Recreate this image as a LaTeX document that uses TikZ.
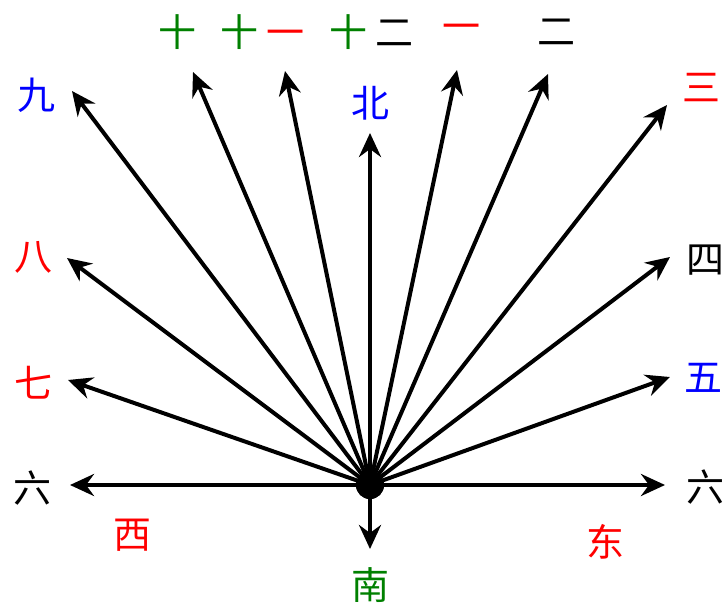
\documentclass[tikz,border=0pt]{standalone}
\usepackage{fontspec}
\newfontfamily\cjk{Noto Sans CJK SC}
\usetikzlibrary{arrows.meta, positioning}

\begin{document}
\begin{tikzpicture}[
        x=1pt, y=-1pt,
        ray/.style={line width=4pt, -{Stealth[length=24pt, width=22pt, inset=8pt]}},
        lbl/.style={font=\cjk\fontsize{38}{40}\selectfont, inner sep=0pt},
        dot/.style={circle, fill=black, minimum size=28pt, inner sep=0pt}
    ]
        \useasboundingbox (0,0) rectangle (728,610);
        \node[dot] (o) at (370,485) {};

        % tips of the rays
        \coordinate (e) at (665,485);
        \coordinate (w) at (70,485);
        \coordinate (s) at (370,549);
        \coordinate (n) at (370,133);
        \coordinate (d5) at (670,377);
        \coordinate (d4) at (670,257);
        \coordinate (d3) at (667,105);
        \coordinate (d2) at (548,74);
        \coordinate (d1) at (457,70);
        \coordinate (d11) at (285,71);
        \coordinate (d10) at (193,72);
        \coordinate (d9) at (72,91);
        \coordinate (d8) at (67,258);
        \coordinate (d7) at (68,380);

        % labels
        \node[lbl] (t10) at (177,32) {\color{green!50!black}十};
        \node[lbl] (t11) at (262,32) {\color{green!50!black}十\hspace{8pt}\color{red}一};
        \node[lbl] (t12) at (371,32) {\color{green!50!black}十\hspace{8pt}\color{black}二};
        \node[lbl, red] (t1) at (461,32) {一};
        \node[lbl] (t2) at (556,32) {二};
        \node[lbl, blue] (north) at (370,103) {北};
        \node[lbl, red] (t3) at (701,88) {三};
        \node[lbl] (t4) at (705,260) {四};
        \node[lbl, blue] (t5) at (703,378) {五};
        \node[lbl] (t6r) at (705,487) {六};
        \node[lbl, blue] (t9) at (36,95) {九};
        \node[lbl, red] (t8) at (33,257) {八};
        \node[lbl, red] (t7) at (33,383) {七};
        \node[lbl] (t6l) at (32,488) {六};
        \node[lbl, red] (west) at (132,535) {西};
        \node[lbl, red] (east) at (605,542) {东};
        \node[lbl, green!50!black] (south) at (370,585) {南};

        \draw[ray] (o.center) -- (e);
        \draw[ray] (o.center) -- (w);
        \draw[ray] (o.center) -- (s);
        \draw[ray] (o.center) -- (n);
        \draw[ray] (o.center) -- (d5);
        \draw[ray] (o.center) -- (d4);
        \draw[ray] (o.center) -- (d3);
        \draw[ray] (o.center) -- (d2);
        \draw[ray] (o.center) -- (d1);
        \draw[ray] (o.center) -- (d11);
        \draw[ray] (o.center) -- (d10);
        \draw[ray] (o.center) -- (d9);
        \draw[ray] (o.center) -- (d8);
        \draw[ray] (o.center) -- (d7);
        \node[dot] at (o) {};
    \end{tikzpicture}
\end{document}
